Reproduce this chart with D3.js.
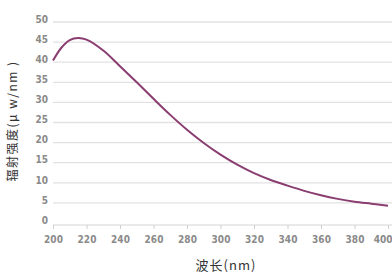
<!DOCTYPE html>
<html><head><meta charset="utf-8">
<script src="https://cdn.jsdelivr.net/npm/d3@7"></script>
<style>
html,body{margin:0;padding:0;background:#fff;}
svg{display:block;}
</style></head>
<body>
<svg id="c" width="392" height="274"></svg>
<script>
const wavelengths = [200,205,210,215,220,230,240,250,260,270,280,290,300,310,320,330,340,350,360,370,380,390,400];
const intensity   = [40.4,43.6,45.5,46.0,45.6,42.9,39.0,35.0,30.9,26.9,23.2,19.9,17.0,14.5,12.4,10.7,9.3,8.0,6.9,6.0,5.3,4.8,4.3];
const yTicks = [0,5,10,15,20,25,30,35,40,45,50];
const xTicks = [200,220,240,260,280,300,320,340,360,380,400];
const yTitle = "辐射强度(μ w/nm )";
const xTitle = "波长(nm)";

const svg = d3.select("#c");
const x = d3.scaleLinear().domain([200,400]).range([53,388]);
const y = d3.scaleLinear().domain([0,50]).range([223,22]);

// gridlines
svg.append("g").selectAll("line").data(yTicks.filter(d=>d>0)).join("line")
  .attr("x1",53).attr("x2",392)
  .attr("y1",d=>y(d)).attr("y2",d=>y(d))
  .attr("stroke","#e2e2e2").attr("stroke-width",1.3);

// x axis
const xAxis = svg.append("g").attr("transform","translate(0,225)")
  .call(d3.axisBottom(x).tickValues(xTicks).tickSize(4).tickPadding(7).tickFormat(d3.format("d")));
xAxis.select(".domain").attr("stroke","#d4d4d4").attr("d","M53,0H392");
xAxis.selectAll(".tick line").attr("stroke","#cfcfcf");
xAxis.selectAll("text").attr("fill","#8a8a8a")
  .style("font-family","'Liberation Sans Narrow','DejaVu Sans Condensed',sans-serif")
  .style("font-weight","bold").style("font-size","10px");
xAxis.selectAll(".tick").filter(d=>d===400).select("text").attr("text-anchor","end").attr("x",4);

// y axis labels
const yAxis = svg.append("g").attr("transform","translate(48,-3)")
  .call(d3.axisLeft(y).tickValues(yTicks).tickSize(0).tickPadding(0));
yAxis.select(".domain").remove();
yAxis.selectAll("text").attr("fill","#8a8a8a")
  .style("font-family","'Liberation Sans Narrow','DejaVu Sans Condensed',sans-serif")
  .style("font-weight","bold").style("font-size","10px");

// curve
const line = d3.line().x((d,i)=>x(wavelengths[i])).y(d=>y(d)).curve(d3.curveCatmullRom.alpha(0.5));
svg.append("path").datum(intensity).attr("d",line)
  .attr("fill","none").attr("stroke","#8a3d70").attr("stroke-width",2);

// titles
svg.append("text").attr("transform","translate(17,121) rotate(-90)")
  .attr("text-anchor","middle").attr("fill","#333")
  .style("font-family","'Noto Sans CJK SC',sans-serif").style("font-size","12px")
  .style("letter-spacing","1.5px")
  .text(yTitle);
svg.append("text").attr("x",226).attr("y",270)
  .attr("text-anchor","middle").attr("fill","#333")
  .style("font-family","'Noto Sans CJK SC',sans-serif").style("font-size","13px")
  .style("letter-spacing","1px")
  .text(xTitle);
</script>
</body></html>
